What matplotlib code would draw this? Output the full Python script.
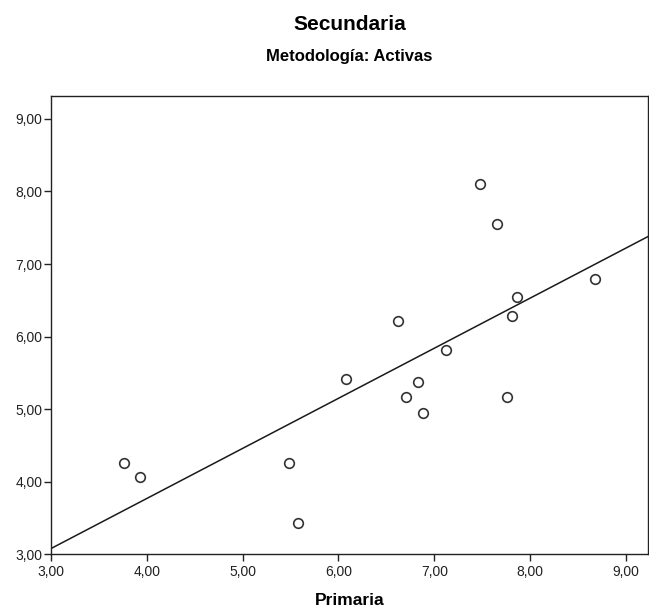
import numpy as np
import matplotlib
matplotlib.use("Agg")
import matplotlib.pyplot as plt
from matplotlib.ticker import FuncFormatter

plt.rcParams['font.family'] = ['Liberation Sans', 'DejaVu Sans']

# data
primaria = [3.76, 3.93, 5.48, 5.58, 6.08, 6.62, 6.70, 6.83, 6.88, 7.12, 7.48, 7.65, 7.76, 7.81, 7.86, 8.68]
secundaria = [4.26, 4.07, 4.26, 3.43, 5.42, 6.22, 5.17, 5.38, 4.95, 5.82, 8.11, 7.55, 5.17, 6.29, 6.55, 6.80]
ticks = [3, 4, 5, 6, 7, 8, 9]

x = np.array(primaria)
y = np.array(secundaria)
slope, intercept = np.polyfit(x, y, 1)

fig = plt.figure(figsize=(6.49, 6.08), dpi=100)
ax = fig.add_axes([51 / 649, (608 - 554.3) / 608, 597 / 649, (554.3 - 95.7) / 608])

xmin, xmax = 3.0, 9.23
ymin, ymax = 3.0, 9.32
xl = np.array([xmin, xmax])
ax.plot(xl, intercept + slope * xl, color='#1a1a1a', lw=1.1, zorder=2)
ax.scatter(x, y, s=48, facecolors='white', edgecolors='#333333', linewidths=1.2, zorder=3)

ax.set_xlim(xmin, xmax)
ax.set_ylim(ymin, ymax)
ax.set_xticks(ticks)
ax.set_yticks(ticks)
fmt = FuncFormatter(lambda v, p: f"{v:.2f}".replace('.', ','))
ax.xaxis.set_major_formatter(fmt)
ax.yaxis.set_major_formatter(fmt)
ax.tick_params(direction='out', length=5, width=1, pad=1, labelsize=10, colors='#222222')
ax.tick_params(axis='x', pad=3)
for s in ax.spines.values():
    s.set_linewidth(1.0)
    s.set_color('#222222')

ax.set_xlabel('Primaria', fontsize=12.5, fontweight='bold', labelpad=9.5)
fig.text(349.5 / 649, 1 - 24 / 608, 'Secundaria', ha='center', va='center', fontsize=15, fontweight='bold')
fig.text(349.5 / 649, 1 - 57 / 608, 'Metodología: Activas', ha='center', va='center', fontsize=12, fontweight='bold')

fig.savefig('out.png', dpi=100)
